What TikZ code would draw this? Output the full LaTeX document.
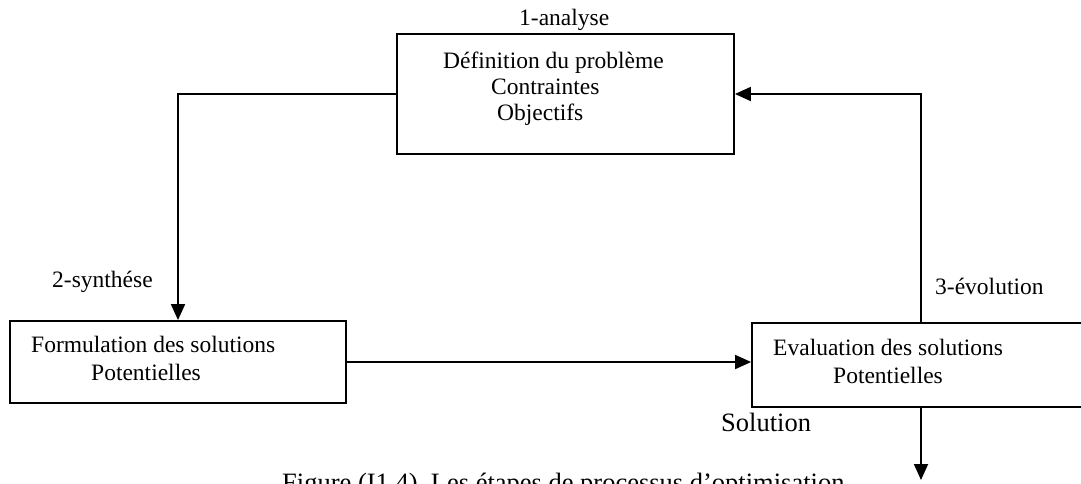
\documentclass[tikz,border=0pt]{standalone}
\usepackage{fontspec}
\setmainfont{Liberation Serif}
\usetikzlibrary{arrows.meta}
\begin{document}
\begin{tikzpicture}[x=1pt,y=-1pt,
  box/.style={draw,line width=1.8pt,inner sep=0pt},
  lbl/.style={anchor=base west,inner sep=0pt,font=\fontsize{23.5}{27}\selectfont},
  biglbl/.style={anchor=base west,inner sep=0pt,font=\fontsize{26.5}{30}\selectfont},
  link/.style={line width=1.8pt,-{Triangle[length=16pt,width=14pt]}}]
\useasboundingbox (0,0) rectangle (1081,483);
\clip (0,0) rectangle (1081,483);

% process boxes
\node[box,minimum width=337pt,minimum height=120pt] (def) at (565.5,94) {};
\node[box,minimum width=336pt,minimum height=82pt] (form) at (178,362) {};
\node[box,minimum width=338pt,minimum height=84pt] (eval) at (921,365) {};

% box contents
\node[lbl] (t1) at (443,68) {Définition du problème};
\node[lbl] (t2) at (491,94) {Contraintes};
\node[lbl] (t3) at (497,120) {Objectifs};
\node[lbl] (t4) at (31,352) {Formulation des solutions};
\node[lbl] (t5) at (91,380) {Potentielles};
\node[lbl] (t6) at (773,355) {Evaluation des solutions};
\node[lbl] (t7) at (833,383) {Potentielles};

% step labels
\node[lbl] (s1) at (519,25) {1-analyse};
\node[lbl] (s2) at (52,287) {2-synthése};
\node[lbl] (s3) at (935,294) {3-évolution};
\node[biglbl] (sol) at (721,431) {Solution};

% caption
\node[biglbl] (cap) at (282,491) {Figure (I1.4)\ \ Les étapes de processus d’optimisation};

% connectors
\coordinate (out) at (921,480);
\draw[link] (def.west) -| (form.north);
\draw[link] (form.east) -- (eval.west |- form.east);
\draw[link] (eval.north) |- (def.east);
\draw[link] (eval.south) -- (out);
\end{tikzpicture}
\end{document}
